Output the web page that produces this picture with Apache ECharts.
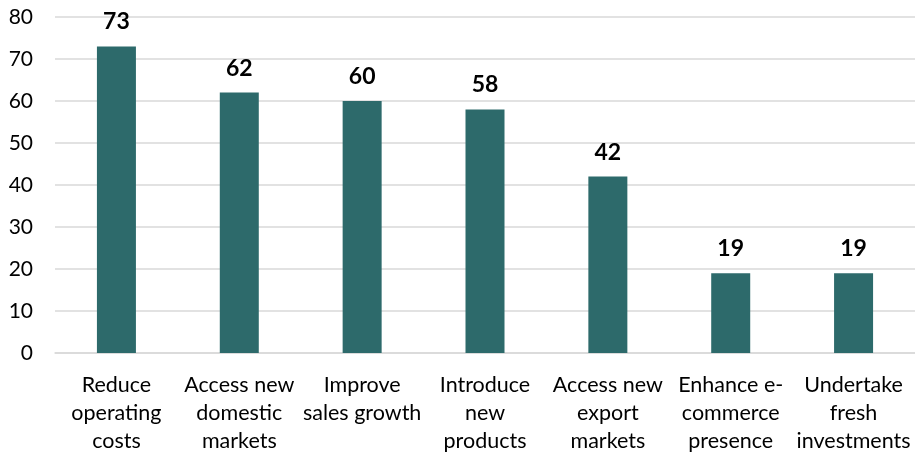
<!DOCTYPE html>
<html>
<head>
<meta charset="utf-8">
<script src="https://cdn.jsdelivr.net/npm/echarts@6/dist/echarts.min.js"></script>
<style>
  html, body { margin: 0; padding: 0; background: #ffffff; }
  #chart { width: 915px; height: 455px; }
</style>
</head>
<body>
<div id="chart"></div>
<script>
// Reasons for adopting digital tools (share of firms, %)
const categories = [
  'Reduce\noperating\ncosts',
  'Access new\ndomestic\nmarkets',
  'Improve\nsales growth',
  'Introduce\nnew\nproducts',
  'Access new\nexport\nmarkets',
  'Enhance e-\ncommerce\npresence',
  'Undertake\nfresh\ninvestments'
];
const values = [73, 62, 60, 58, 42, 19, 19];
const yTicks = { min: 0, max: 80, interval: 10 };

const font = 'Lato, "Open Sans", "Liberation Sans", sans-serif';

const chart = echarts.init(document.getElementById('chart'), null, { renderer: 'canvas' });
chart.setOption({
  animation: false,
  grid: { left: 55, width: 867, top: 17, height: 337, containLabel: false },
  xAxis: {
    type: 'category',
    data: categories,
    axisLine: { show: true, lineStyle: { color: '#d9d9d9', width: 1.5 } },
    axisTick: { show: false },
    axisLabel: {
      interval: 0,
      color: '#000000',
      fontFamily: font,
      fontSize: 21.5,
      lineHeight: 28,
      margin: 18,
      align: 'center'
    }
  },
  yAxis: {
    type: 'value',
    min: yTicks.min,
    max: yTicks.max,
    interval: yTicks.interval,
    axisLine: { show: false },
    axisTick: { show: false },
    splitLine: { lineStyle: { color: '#d9d9d9', width: 1.5 } },
    axisLabel: {
      color: '#000000',
      fontFamily: font,
      fontSize: 21,
      margin: 22
    }
  },
  series: [{
    type: 'bar',
    data: values,
    barWidth: 39,
    itemStyle: { color: '#2d6a6b' },
    label: {
      show: true,
      position: 'top',
      distance: 13,
      color: '#000000',
      fontFamily: font,
      fontWeight: 'bold',
      fontSize: 23
    }
  }]
});
</script>
</body>
</html>
